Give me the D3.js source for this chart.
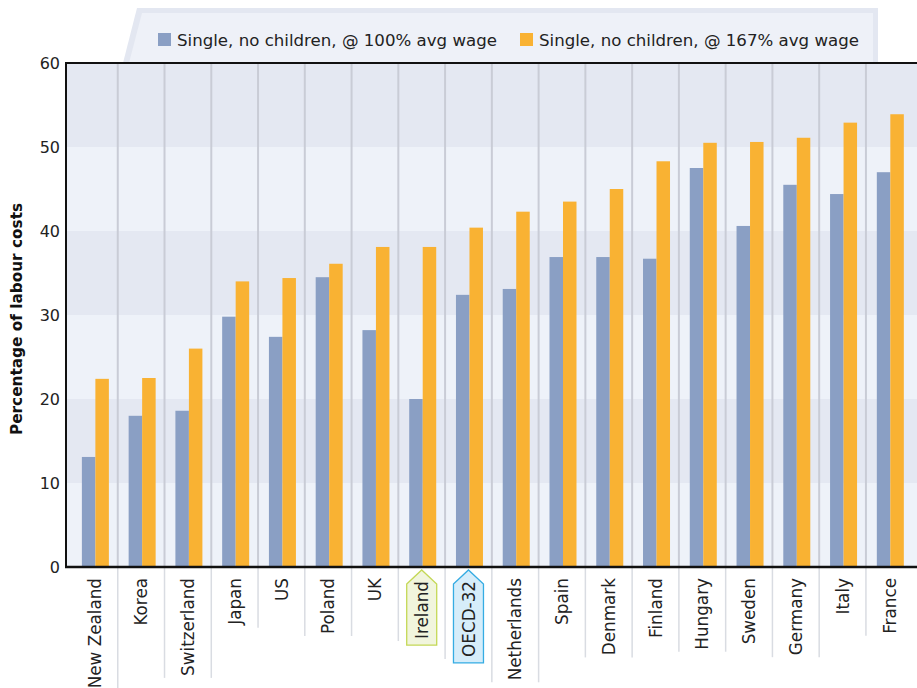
<!DOCTYPE html>
<html>
<head>
<meta charset="utf-8">
<script src="https://cdn.jsdelivr.net/npm/d3@7"></script>
<style>
  body { margin: 0; background: #fff; }
  svg { display: block; font-family: "DejaVu Sans", sans-serif; }
</style>
</head>
<body>
<div id="chart"></div>
<script>
// data
var countries = ["New Zealand", "Korea", "Switzerland", "Japan", "US", "Poland", "UK", "Ireland", "OECD-32",
  "Netherlands", "Spain", "Denmark", "Finland", "Hungary", "Sweden", "Germany", "Italy", "France"];
var wage100 = [13.1, 18.0, 18.6, 29.8, 27.4, 34.5, 28.2, 20.0, 32.4, 33.1, 36.9, 36.9, 36.7, 47.5, 40.6, 45.5, 44.4, 47.0];
var wage167 = [22.4, 22.5, 26.0, 34.0, 34.4, 36.1, 38.1, 38.1, 40.4, 42.3, 43.5, 45.0, 48.3, 50.5, 50.6, 51.1, 52.9, 53.9];
var seriesNames = ["Single, no children, @ 100% avg wage", "Single, no children, @ 167% avg wage"];
var yTicks = [0, 10, 20, 30, 40, 50, 60];
var highlight = { "Ireland": ["#f1f5dd", "#c4d856"], "OECD-32": ["#d6edfa", "#35ace3"] };

var colors = ["#8a9fc4", "#f9b233"];

var width = 917, height = 688;
var plotLeft = 66, plotTop = 63, plotBottom = 567, plotRight = 917;

var svg = d3.select("#chart").append("svg")
  .attr("width", width)
  .attr("height", height);

var data = countries.map(function(c, i) {
  return { name: c, values: [wage100[i], wage167[i]] };
});

var y = d3.scaleLinear().domain([0, 60]).range([plotBottom, plotTop]);
var x0 = d3.scaleBand().domain(countries).range([71, 912.7]);
var bw = x0.bandwidth();
var x1 = d3.scaleBand().domain([0, 1]).range([bw / 2 - 12.5, bw / 2 + 14.5]);

// legend panel
var leg = svg.append("g");
leg.append("path")
  .attr("d", "M123,63 L137,8 L878,8 L878,63 Z")
  .attr("fill", "#e3e7f1");
leg.append("path")
  .attr("d", "M129,63 L142,13 L873,13 L873,63 Z")
  .attr("fill", "#eef1f8");

var legX = [158, 520];
seriesNames.forEach(function(s, i) {
  leg.append("rect")
    .attr("x", legX[i]).attr("y", 33)
    .attr("width", 13).attr("height", 13)
    .attr("fill", colors[i]);
  leg.append("text")
    .attr("x", legX[i] + 19).attr("y", 40)
    .attr("dy", "0.35em")
    .attr("font-size", 16.5)
    .attr("fill", "#222")
    .attr("textLength", 320)
    .attr("lengthAdjust", "spacingAndGlyphs")
    .text(s);
});

// alternating background bands
var bands = d3.range(0, 60, 10);
svg.append("g").selectAll("rect")
  .data(bands)
  .enter().append("rect")
  .attr("x", plotLeft)
  .attr("width", plotRight - plotLeft)
  .attr("y", function(d) { return y(d + 10); })
  .attr("height", function(d) { return y(d) - y(d + 10); })
  .attr("fill", function(d) { return (d / 10) % 2 == 0 ? "#eef2f9" : "#e4e8f2"; });

// category labels (drawn first so their lengths can be measured)
function labelTop(d) { return highlight[d.name] ? 581 : 578; }

var labels = svg.append("g").selectAll("g.lab")
  .data(data)
  .enter().append("g")
  .attr("class", "lab")
  .attr("transform", function(d) {
    return "translate(" + (x0(d.name) + bw / 2) + "," + labelTop(d) + ")";
  });

labels.append("text")
  .attr("transform", "rotate(-90)")
  .attr("text-anchor", "end")
  .attr("dy", "0.37em")
  .attr("font-size", 16.8)
  .attr("fill", "#222")
  .text(function(d) { return d.name; });

var ends = [];
labels.each(function(d) {
  var b = d3.select(this).select("text").node().getBBox();
  ends.push(labelTop(d) + b.width);
});

// highlight boxes behind Ireland and OECD-32
labels.filter(function(d) { return highlight[d.name]; })
  .insert("path", "text")
  .attr("d", function(d) {
    var b = d3.select(this.parentNode).select("text").node().getBBox();
    var h = b.width + 6;
    return "M-15,3 L0,-11 L15,3 L15," + h + " L-15," + h + " Z";
  })
  .attr("fill", function(d) { return highlight[d.name][0]; })
  .attr("stroke", function(d) { return highlight[d.name][1]; })
  .attr("stroke-width", 1.3);

// separator lines between categories
var seps = d3.range(1, countries.length);
var sepG = svg.append("g");
sepG.selectAll("line.in")
  .data(seps)
  .enter().append("line")
  .attr("class", "in")
  .attr("x1", function(i) { return x0(countries[i]); })
  .attr("x2", function(i) { return x0(countries[i]); })
  .attr("y1", plotTop)
  .attr("y2", plotBottom)
  .attr("stroke", "#c9ccd6")
  .attr("stroke-width", 2);
sepG.selectAll("line.out")
  .data(seps)
  .enter().append("line")
  .attr("class", "out")
  .attr("x1", function(i) { return x0(countries[i]); })
  .attr("x2", function(i) { return x0(countries[i]); })
  .attr("y1", plotBottom)
  .attr("y2", function(i) { return Math.max(ends[i - 1], ends[i]) + 2; })
  .attr("stroke", "#d9dce2")
  .attr("stroke-width", 1.5);

// bars
svg.append("g").selectAll("g")
  .data(data)
  .enter().append("g")
  .attr("transform", function(d) { return "translate(" + x0(d.name) + ",0)"; })
  .selectAll("rect")
  .data(function(d) { return d.values.map(function(v, i) { return { k: i, v: v }; }); })
  .enter().append("rect")
  .attr("x", function(d) { return x1(d.k); })
  .attr("width", x1.bandwidth())
  .attr("y", function(d) { return y(d.v); })
  .attr("height", function(d) { return plotBottom - y(d.v); })
  .attr("fill", function(d) { return colors[d.k]; });

// axes
var yAxis = svg.append("g")
  .attr("transform", "translate(" + plotLeft + ",0)")
  .call(d3.axisLeft(y).tickValues(yTicks).tickSize(0).tickPadding(6));
yAxis.select(".domain").remove();
yAxis.selectAll("text")
  .attr("font-size", 16)
  .attr("font-family", "DejaVu Sans, sans-serif")
  .attr("fill", "#222");

svg.append("line")
  .attr("x1", plotLeft).attr("x2", plotLeft)
  .attr("y1", plotTop - 1).attr("y2", plotBottom + 1)
  .attr("stroke", "#111").attr("stroke-width", 2);
svg.append("line")
  .attr("x1", plotLeft - 1).attr("x2", plotRight)
  .attr("y1", plotBottom).attr("y2", plotBottom)
  .attr("stroke", "#111").attr("stroke-width", 2.5);
svg.append("line")
  .attr("x1", plotLeft - 1).attr("x2", plotRight)
  .attr("y1", plotTop).attr("y2", plotTop)
  .attr("stroke", "#111").attr("stroke-width", 2);

svg.append("text")
  .attr("transform", "translate(17," + ((plotTop + plotBottom) / 2 + 4) + ") rotate(-90)")
  .attr("text-anchor", "middle")
  .attr("dy", "0.35em")
  .attr("font-size", 15.3)
  .attr("font-weight", "bold")
  .attr("fill", "#111")
  .text("Percentage of labour costs");
</script>
</body>
</html>
